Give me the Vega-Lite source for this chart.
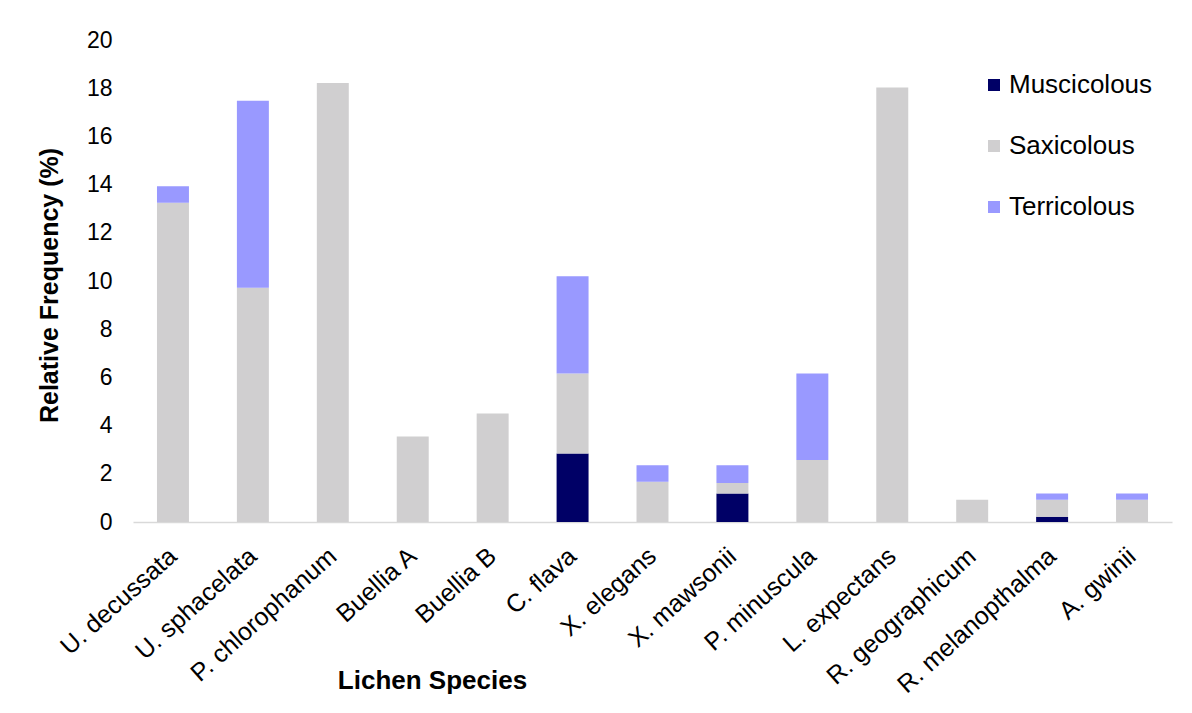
{
  "$schema": "https://vega.github.io/schema/vega-lite/v6.json",
  "autosize": "none",
  "width": 1039,
  "height": 482,
  "padding": {"left": 133, "top": 40, "right": 20, "bottom": 191},
  "background": "white",
  "config": {
    "view": {"stroke": null},
    "font": "Liberation Sans"
  },
  "data": {
    "values": [
      {"species": "U. decussata", "habitat": "Saxicolous", "freq": 13.25},
      {"species": "U. decussata", "habitat": "Terricolous", "freq": 0.68},
      {"species": "U. sphacelata", "habitat": "Saxicolous", "freq": 9.72},
      {"species": "U. sphacelata", "habitat": "Terricolous", "freq": 7.76},
      {"species": "P. chlorophanum", "habitat": "Saxicolous", "freq": 18.22},
      {"species": "Buellia A", "habitat": "Saxicolous", "freq": 3.55},
      {"species": "Buellia B", "habitat": "Saxicolous", "freq": 4.5},
      {"species": "C. flava", "habitat": "Muscicolous", "freq": 2.84},
      {"species": "C. flava", "habitat": "Saxicolous", "freq": 3.32},
      {"species": "C. flava", "habitat": "Terricolous", "freq": 4.04},
      {"species": "X. elegans", "habitat": "Saxicolous", "freq": 1.67},
      {"species": "X. elegans", "habitat": "Terricolous", "freq": 0.68},
      {"species": "X. mawsonii", "habitat": "Muscicolous", "freq": 1.18},
      {"species": "X. mawsonii", "habitat": "Saxicolous", "freq": 0.44},
      {"species": "X. mawsonii", "habitat": "Terricolous", "freq": 0.73},
      {"species": "P. minuscula", "habitat": "Saxicolous", "freq": 2.57},
      {"species": "P. minuscula", "habitat": "Terricolous", "freq": 3.59},
      {"species": "L.  expectans", "habitat": "Saxicolous", "freq": 18.03},
      {"species": "R. geographicum", "habitat": "Saxicolous", "freq": 0.92},
      {"species": "R. melanopthalma", "habitat": "Muscicolous", "freq": 0.22},
      {"species": "R. melanopthalma", "habitat": "Saxicolous", "freq": 0.7},
      {"species": "R. melanopthalma", "habitat": "Terricolous", "freq": 0.26},
      {"species": "A. gwinii", "habitat": "Saxicolous", "freq": 0.92},
      {"species": "A. gwinii", "habitat": "Terricolous", "freq": 0.26}
    ]
  },
  "mark": {"type": "bar"},
  "encoding": {
    "x": {
      "field": "species",
      "type": "nominal",
      "sort": null,
      "scale": {"paddingInner": 0.6, "paddingOuter": 0.3},
      "axis": {
        "title": "Lichen  Species",
        "titleFont": "Liberation Sans",
        "titleFontSize": 26,
        "titleFontWeight": "bold",
        "titleColor": "black",
        "titleX": 299,
        "titleY": 158,
        "titleAlign": "center",
        "titleBaseline": "middle",
        "labelAngle": -42,
        "labelAlign": "right",
        "labelBaseline": "middle",
        "labelFontSize": 25,
        "labelColor": "black",
        "labelPadding": 30,
        "labelLimit": 400,
        "ticks": false,
        "domainColor": "#d9d9d9",
        "domainWidth": 1.5
      }
    },
    "y": {
      "field": "freq",
      "type": "quantitative",
      "stack": "zero",
      "scale": {"domain": [0, 20]},
      "axis": {
        "title": "Relative  Frequency  (%)",
        "titleFontSize": 25,
        "titleFontWeight": "bold",
        "titleColor": "black",
        "titleX": -84,
        "titleY": 245,
        "titleAngle": -90,
        "titleAlign": "center",
        "titleBaseline": "middle",
        "values": [0, 2, 4, 6, 8, 10, 12, 14, 16, 18, 20],
        "labelFontSize": 23,
        "labelColor": "black",
        "labelPadding": 21,
        "ticks": false,
        "domain": false,
        "grid": false
      }
    },
    "order": {"field": "habitat", "sort": "ascending"},
    "color": {
      "field": "habitat",
      "type": "nominal",
      "scale": {
        "domain": ["Muscicolous", "Saxicolous", "Terricolous"],
        "range": ["#000066", "#d0cfd0", "#9999ff"]
      },
      "legend": {
        "title": null,
        "orient": "none",
        "legendX": 848,
        "legendY": 32,
        "symbolType": "square",
        "symbolSize": 144,
        "symbolStrokeWidth": 0,
        "labelFontSize": 26,
        "labelColor": "black",
        "labelOffset": 2,
        "rowPadding": 35,
        "padding": 0
      }
    }
  }
}
